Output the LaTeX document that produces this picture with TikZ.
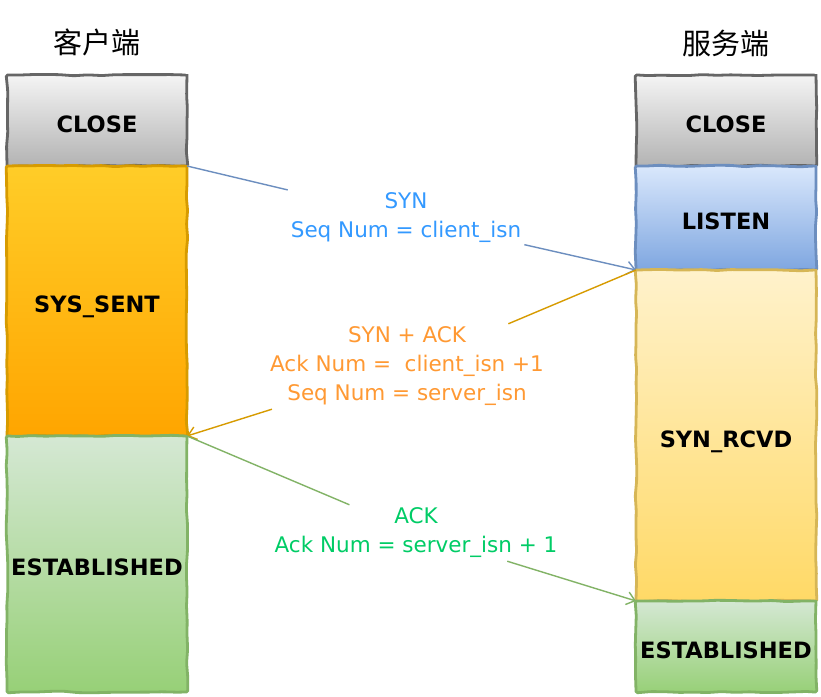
\documentclass[tikz,border=0pt]{standalone}
\usepackage{fontspec}
\setmainfont{DejaVu Sans}
\newfontfamily\cjk{Noto Sans CJK SC}
\usetikzlibrary{positioning, arrows.meta, decorations.pathmorphing}
\definecolor{closeline}{HTML}{666666}
\definecolor{sentline}{HTML}{D79B00}
\definecolor{estline}{HTML}{82B366}
\definecolor{listenline}{HTML}{6C8EBF}
\definecolor{rcvdline}{HTML}{D6B656}
\definecolor{syntext}{HTML}{3399FF}
\definecolor{synacktext}{HTML}{FF9933}
\definecolor{acktext}{HTML}{00CC66}

\begin{document}
\begin{tikzpicture}[x=1pt, y=1pt,
  state/.style={rectangle, minimum width=180pt, outer sep=0pt, inner sep=0pt,
                line width=2.8pt, font=\fontsize{22.5}{26}\selectfont\bfseries,
                text height=23.4pt, text depth=0pt,
                decorate, decoration={random steps, segment length=14pt, amplitude=0.8pt},
                rounded corners=1.5pt},
  closebox/.style={state, draw=closeline, top color=black!4, bottom color=black!30},
  sentbox/.style={state, draw=sentline, top color={rgb,255:red,255;green,205;blue,40}, bottom color={rgb,255:red,255;green,165;blue,0}},
  estbox/.style={state, draw=estline, top color={rgb,255:red,213;green,232;blue,212}, bottom color={rgb,255:red,151;green,208;blue,119}},
  listenbox/.style={state, draw=listenline, top color={rgb,255:red,218;green,232;blue,252}, bottom color={rgb,255:red,126;green,166;blue,224}},
  rcvdbox/.style={state, draw=rcvdline, top color={rgb,255:red,255;green,242;blue,204}, bottom color={rgb,255:red,255;green,217;blue,102}},
  title/.style={font=\cjk\fontsize{29}{32}\selectfont},
  msg/.style={font=\fontsize{21.5}{29}\selectfont, align=center, inner sep=3pt},
  flow/.style={line width=1.4pt, -{Straight Barb[length=8pt,width=13pt]}},
]
\fill[white] (0,0) rectangle (821,696);
\useasboundingbox (0,0) rectangle (821,696);

% client side
\node[closebox, minimum height=91pt, anchor=north west] (cclose) at (7,621) {CLOSE};
\node[sentbox, minimum height=270pt, below=0pt of cclose] (csent) {SYS\_SENT};
\node[estbox, minimum height=256pt, below=0pt of csent] (cest) {ESTABLISHED};
\node[title, above=15pt of cclose] (ctitle) {客户端};

% server side
\node[closebox, minimum height=91pt, anchor=north west] (sclose) at (636,621) {CLOSE};
\node[listenbox, minimum height=104pt, below=0pt of sclose] (slisten) {LISTEN};
\node[rcvdbox, minimum height=331pt, below=0pt of slisten] (srcvd) {SYN\_RCVD};
\node[estbox, minimum height=91pt, below=0pt of srcvd] (sest) {ESTABLISHED};
\node[title, above=15pt of sclose] (stitle) {服务端};

% messages
\node[msg, text=syntext] (synlbl) at (406,478) {SYN\\Seq Num = client\_isn};
\node[msg, text=synacktext] (synacklbl) at (407,329.5) {SYN + ACK\\Ack Num =~ client\_isn +1\\Seq Num = server\_isn};
\node[msg, text=acktext] (acklbl) at (416,163) {ACK\\Ack Num = server\_isn + 1};

\draw[flow, draw=listenline] (csent.north east) -- (synlbl) -- (srcvd.north west);
\draw[flow, draw=sentline] (srcvd.north west) -- (synacklbl) -- (cest.north east);
\draw[flow, draw=estline] (cest.north east) -- (acklbl) -- (sest.north west);
\end{tikzpicture}
\end{document}
